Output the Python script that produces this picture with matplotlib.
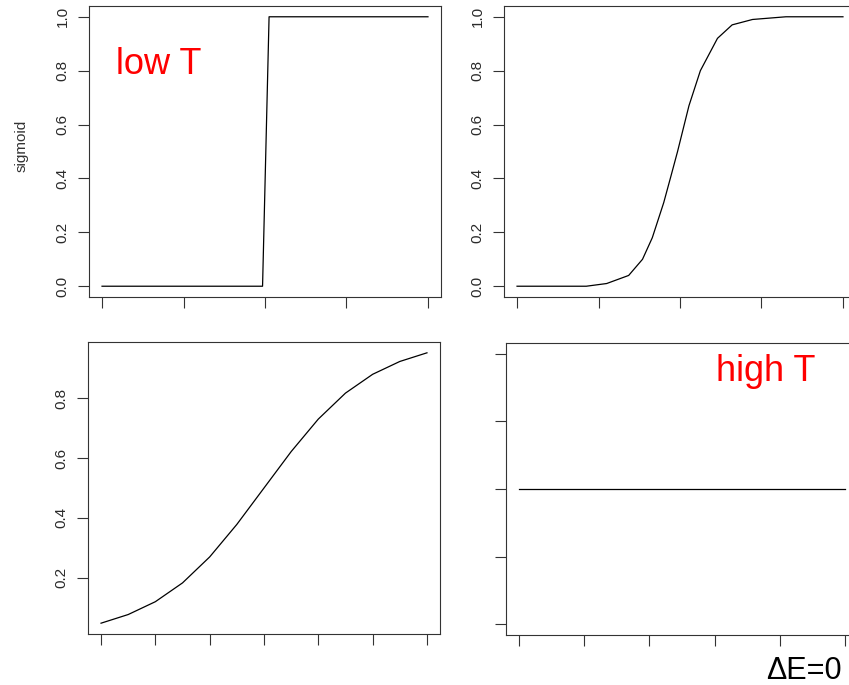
import matplotlib
matplotlib.use("Agg", force=True)
import matplotlib.pyplot as plt

# low T: near step at 0
low_x = [-2.0, -0.03, 0.05, 2.0]
low_y = [0.0, 0.0, 1.0, 1.0]

# medium-low T
mid_x = [-2.0, -1.15, -0.9, -0.63, -0.46, -0.34, -0.2, -0.11, -0.03, 0.11, 0.25, 0.46, 0.64, 0.89, 1.3, 2.0]
mid_y = [0.0, 0.0, 0.01, 0.04, 0.10, 0.18, 0.31, 0.41, 0.5, 0.67, 0.80, 0.92, 0.97, 0.99, 1.0, 1.0]

# medium-high T
wide_x = [-3.0, -2.5, -2.0, -1.5, -1.0, -0.5, 0.0, 0.5, 1.0, 1.5, 2.0, 2.5, 3.0]
wide_y = [0.047, 0.076, 0.119, 0.182, 0.269, 0.378, 0.5, 0.622, 0.731, 0.818, 0.881, 0.924, 0.953]

# high T: flat at 0.5
high_x = [0.0, 10.0]
high_y = [0.5, 0.5]

top_xticks = [-2, -1, 0, 1, 2]
wide_xticks = [-3, -2, -1, 0, 1, 2, 3]
high_xticks = [0, 2, 4, 6, 8, 10]
top_yticks = [0.0, 0.2, 0.4, 0.6, 0.8, 1.0]
wide_yticks = [0.2, 0.4, 0.6, 0.8]
high_yticks = [0.3, 0.4, 0.5, 0.6, 0.7]

plt.rcParams["font.family"] = ["Liberation Sans", "DejaVu Sans"]

W, H = 849, 685
fig = plt.figure(figsize=(W / 100, H / 100), dpi=100)


def rect(left, right, top, bottom):
    return [left / W, 1 - bottom / H, (right - left) / W, (bottom - top) / H]


def pad_lim(lo, hi):
    d = (hi - lo) * 0.04
    return lo - d, hi + d


def panel(r, x, y, xticks, yticks, ylim, show_ylabels=True):
    ax = fig.add_axes(r)
    ax.plot(x, y, color="black", lw=0.9)
    ax.set_xlim(*pad_lim(min(x), max(x)))
    ax.set_ylim(*ylim)
    ax.set_xticks(xticks)
    ax.set_xticklabels([])
    ax.set_yticks(yticks)
    if show_ylabels:
        ax.set_yticklabels([f"{v:.1f}" for v in yticks])
    else:
        ax.set_yticklabels([])
    for s in ax.spines.values():
        s.set_color("#333333")
        s.set_linewidth(0.8)
    ax.tick_params(direction="out", length=7.9, width=0.8, color="#333333",
                   labelsize=11, labelcolor="#2a2a2a", pad=6)
    ax.tick_params(axis="y", labelrotation=90)
    plt.setp(ax.get_yticklabels(), va="center")
    return ax


panel(rect(89, 441, 6, 297), low_x, low_y, top_xticks, top_yticks, pad_lim(0, 1))
panel(rect(504, 856, 6, 297), mid_x, mid_y, top_xticks, top_yticks, pad_lim(0, 1))
panel(rect(88, 440, 342, 634), wide_x, wide_y, wide_xticks, wide_yticks,
      pad_lim(min(wide_y), max(wide_y)))
panel(rect(506, 858, 343, 635), high_x, high_y, high_xticks, high_yticks,
      pad_lim(0.3, 0.7), show_ylabels=False)

fig.text(21.5 / W, 1 - 146 / H, "sigmoid", rotation=90, ha="center", va="center",
         fontsize=11, color="#333333")
fig.text(116 / W, 1 - 74 / H, "low T", color="red", fontsize=26, ha="left", va="baseline")
fig.text(716 / W, 1 - 381 / H, "high T", color="red", fontsize=26, ha="left", va="baseline")
fig.text(766 / W, 1 - 679 / H, "ΔE=0", color="black", fontsize=22, ha="left", va="baseline")

fig.savefig("out.png", dpi=100)
plt.close(fig)
